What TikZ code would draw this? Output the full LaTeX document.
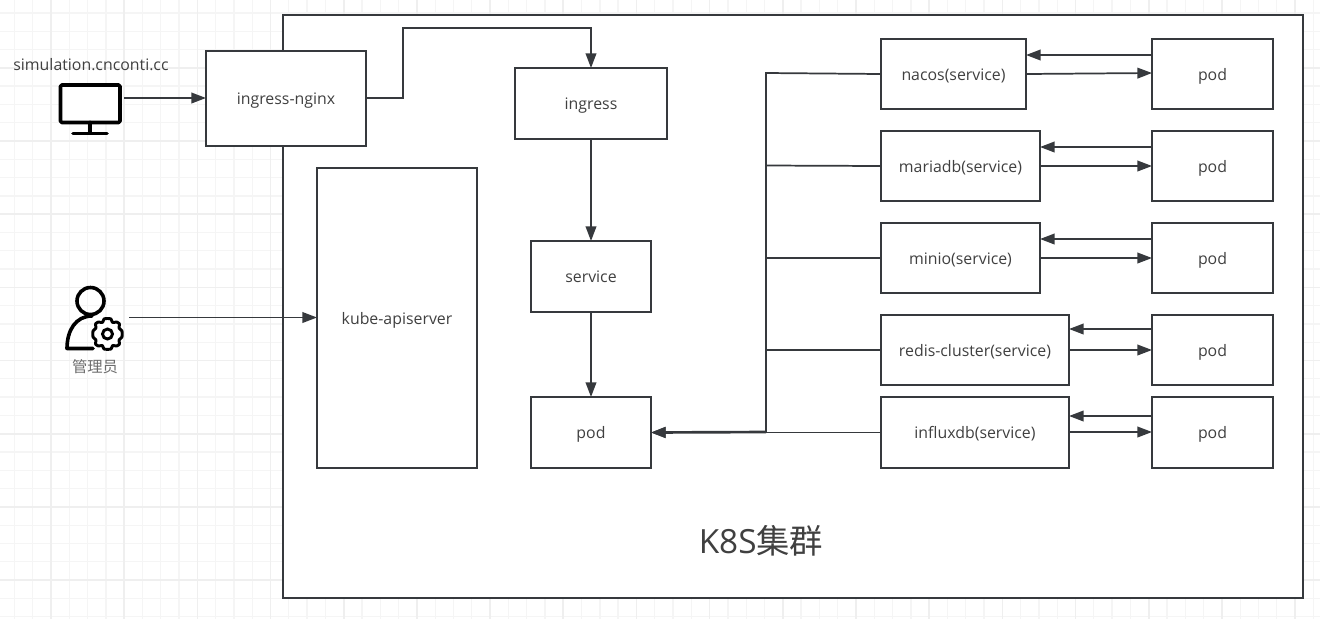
\documentclass[tikz,border=0pt]{standalone}
\usepackage{fontspec}
\setmainfont{Open Sans}
\newfontfamily\cjk{Noto Sans CJK SC}
\usetikzlibrary{arrows.meta}
\definecolor{ink}{HTML}{36393D}
\definecolor{txt}{HTML}{404040}
\definecolor{gridmin}{HTML}{F5F5F5}
\definecolor{gridmaj}{HTML}{EFEFEF}
\tikzset{
  x=0.75pt,y=-0.75pt,
  box/.style={draw=ink,line width=1.4pt,fill=white,text=txt,font=\fontsize{11.9pt}{13pt}\selectfont,inner sep=0pt,outer sep=0pt,anchor=north west,text height=11pt,text depth=2pt},
  conn/.style={draw=ink,line width=1.3pt,-{Triangle[length=11pt,width=8pt]}},
  plain/.style={draw=ink,line width=1.3pt},
  icon/.style={draw=black,line width=2.7pt,line cap=round,line join=round}
}
\newcommand{\bx}[6]{\node[box,minimum width=#4*0.75pt,minimum height=#5*0.75pt] (#1) at (#2,#3) {#6};}
\begin{document}
\begin{tikzpicture}
\useasboundingbox (0,0) rectangle (1320,619);
\fill[white] (0,0) rectangle (1320,619);
% grid
\foreach \i in {0,...,72} {\draw[gridmin,line width=1pt] ({14.4+18.295*\i},0) -- ({14.4+18.295*\i},619);}
\foreach \i in {0,...,34} {\draw[gridmin,line width=1pt] (0,{12.9+18.295*\i}) -- (1320,{12.9+18.295*\i});}
\foreach \i in {0,...,18} {\draw[gridmaj,line width=1.2pt] ({51+73.18*\i},0) -- ({51+73.18*\i},619);}
\foreach \i in {0,...,8} {\draw[gridmaj,line width=1.2pt] (0,{67.8+73.18*\i}) -- (1320,{67.8+73.18*\i});}
% cluster
\bx{k8s}{283}{15}{1020}{583}{}
\node[text=txt,font=\fontsize{25pt}{28pt}\selectfont] (k8slabel) at (761,541) {K8S{\cjk 集群}};
% boxes
\bx{nginx}{206}{51}{160}{95}{ingress-nginx}
\bx{ingress}{515}{68}{152}{71}{ingress}
\bx{api}{317}{168}{160}{300}{kube-apiserver}
\bx{svc}{531}{241}{120}{71}{service}
\bx{pod}{531}{397}{120}{71}{pod}
\bx{nacos}{881}{39}{145}{70}{nacos(service)}
\bx{maria}{881}{131}{159}{70}{mariadb(service)}
\bx{minio}{881}{223}{159}{70}{minio(service)}
\bx{redis}{881}{315}{188}{70}{redis-cluster(service)}
\bx{influx}{881}{397}{188}{71}{influxdb(service)}
\bx{p1}{1152}{39}{121}{70}{pod}
\bx{p2}{1152}{131}{121}{70}{pod}
\bx{p3}{1152}{223}{121}{70}{pod}
\bx{p4}{1152}{315}{121}{70}{pod}
\bx{p5}{1152}{397}{121}{71}{pod}
% outside labels
\node[text=txt,font=\fontsize{11.9pt}{13pt}\selectfont] (site) at (91,65) {simulation.cnconti.cc};
\node[text=gray!85!black,font=\fontsize{11.5pt}{13pt}\cjk] (admin) at (95,367) {管理员};
% monitor icon
\draw[icon,fill=white,rounded corners=1pt] (60.5,85) rectangle (120,122.5);
\draw[icon] (90,122.5) -- (90,133);
\draw[icon] (73,133.5) -- (107,133.5);
\coordinate (mon) at (124,98);
% admin icon
\draw[icon] (90.5,301) circle[radius=13.5];
\draw[icon] (92,316) .. controls (76,316) and (67,330) .. (67,348.5) -- (93,348.5);
\draw[black,line width=2.2pt,line join=round,fill=white]
  plot[smooth cycle,tension=.45] coordinates {
    (107.5,318.5) (111,319) (112.5,322.5) (116.5,322) (119.5,324) (119,328) (122,331) (122,337) (119,340) (119.5,344) (116.5,346) (112.5,345.5) (111,349) (104,349) (102.5,345.5) (98.5,346) (95.5,344) (96,340) (93,337) (93,331) (96,328) (95.5,324) (98.5,322) (102.5,322.5) (104,319)};
\draw[black,line width=2.2pt] (107.5,334) circle[radius=5];
\coordinate (adm) at (129,317.5);
% connectors
\draw[conn] (mon) -- (nginx.west |- mon);
\draw[conn] (adm) -- (api.west |- adm);
\draw[conn] (nginx.east |- 0,98) -- (403,98) -- (403,28) -- (591,28) -- (ingress.north);
\draw[conn] (ingress.south) -- (svc.north);
\draw[conn] (svc.south) -- (pod.north);
\coordinate (bus) at (766,432);
\draw[plain] (nacos.west) -- (766,73) -- (bus);
\draw[plain] (maria.west) -- (766,165.5);
\draw[plain] (minio.west) -- (766,258);
\draw[plain] (redis.west) -- (766,350);
\draw[conn,line width=2pt] (bus) -- (pod.east);
\draw[conn] (influx.west) -- (pod.east);
% pod/service pairs
\draw[conn] (p1.west |- 0,55) -- (nacos.east |- 0,55);
\draw[conn] (nacos.east |- 0,74) -- (p1.west |- 0,73);
\draw[conn] (p2.west |- 0,147) -- (maria.east |- 0,147);
\draw[conn] (maria.east |- 0,166) -- (p2.west |- 0,166);
\draw[conn] (p3.west |- 0,239) -- (minio.east |- 0,239);
\draw[conn] (minio.east |- 0,258) -- (p3.west |- 0,258);
\draw[conn] (p4.west |- 0,329) -- (redis.east |- 0,329);
\draw[conn] (redis.east |- 0,350) -- (p4.west |- 0,350);
\draw[conn] (p5.west |- 0,416) -- (influx.east |- 0,416);
\draw[conn] (influx.east |- 0,432) -- (p5.west |- 0,432);
\end{tikzpicture}
\end{document}
